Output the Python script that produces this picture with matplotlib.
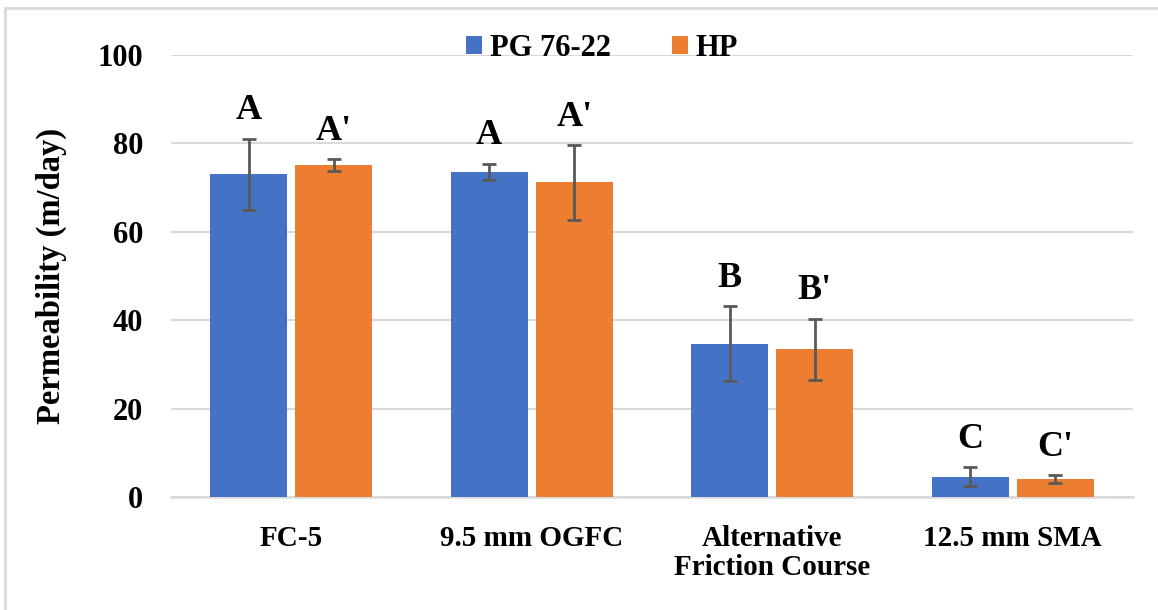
import matplotlib
matplotlib.use("Agg")
import matplotlib.pyplot as plt
from matplotlib.patches import Rectangle
import numpy as np

# Mixture types and their permeability results (m/day)
categories = ["FC-5", "9.5 mm OGFC", "Alternative\nFriction Course", "12.5 mm SMA"]
series_names = ["PG 76-22", "HP"]
pg_mean = [73.0, 73.6, 34.7, 4.7]
pg_err = [8.1, 1.8, 8.5, 2.1]
hp_mean = [75.1, 71.2, 33.5, 4.1]
hp_err = [1.3, 8.4, 6.9, 0.9]
pg_letters = ["A", "A", "B", "C"]
hp_letters = ["A'", "A'", "B'", "C'"]
y_ticks = [0, 20, 40, 60, 80, 100]

BLUE = "#4472C4"
ORANGE = "#ED7D31"
GRID = "#D9D9D9"
ERR = "#595959"

plt.rcParams["font.family"] = ["Liberation Serif", "DejaVu Serif"]
plt.rcParams["font.weight"] = "bold"

W, H = 1158, 610
fig = plt.figure(figsize=(W / 100, H / 100), dpi=100)
ax = fig.add_axes([171 / W, 1 - 497.4 / H, (1133 - 171) / W, (497.4 - 55) / H])

x = np.arange(len(categories))
bw = 0.32
off = 0.177

err_kw = dict(ecolor=ERR, elinewidth=2.0, capsize=5.2, capthick=2.0)
ax.bar(x - off, pg_mean, bw, color=BLUE, label=series_names[0], zorder=3,
       yerr=pg_err, error_kw=err_kw)
ax.bar(x + off, hp_mean, bw, color=ORANGE, label=series_names[1], zorder=3,
       yerr=hp_err, error_kw=err_kw)

# significance letters above the error bars
for xs, means, errs, letters in [(x - off, pg_mean, pg_err, pg_letters),
                                 (x + off, hp_mean, hp_err, hp_letters)]:
    for xi, m, e, lab in zip(xs, means, errs, letters):
        ax.annotate(lab, (xi, m + e), xytext=(0, 14), textcoords="offset points",
                    ha="center", va="baseline", fontsize=26, fontweight="bold",
                    color="black", zorder=5)

ax.set_xlim(-0.5, len(categories) - 0.5)
ax.set_ylim(0, 100)
ax.set_yticks(y_ticks)
ax.set_xticks(x)
ax.set_xticklabels(categories, fontsize=21, fontweight="bold", linespacing=1.1)
ax.tick_params(axis="y", labelsize=22, length=0, pad=20)
ax.tick_params(axis="x", length=0, pad=20)
for lab in ax.get_yticklabels():
    lab.set_fontweight("bold")

ax.grid(axis="y", color=GRID, linewidth=1.5, zorder=0)
ax.set_axisbelow(True)
for s in ["top", "right", "left"]:
    ax.spines[s].set_visible(False)
ax.spines["bottom"].set_color(GRID)
ax.spines["bottom"].set_linewidth(1.8)

ax.set_ylabel("Permeability (m/day)", fontsize=23.5, fontweight="bold", labelpad=22)

fig.legend(loc="center", bbox_to_anchor=(602 / W, 1 - 48 / H), ncol=2,
           frameon=False, handlelength=0.52, handleheight=0.52,
           handletextpad=0.26, columnspacing=2.0, prop={"weight": "bold", "size": 22})

# light chart-area frame
fig.patches.append(Rectangle((5 / W, -0.2), 1.2, 1.2 - 8 / H,
                             transform=fig.transFigure, fill=False,
                             edgecolor=GRID, linewidth=2.0))

fig.savefig("out.png", dpi=100, facecolor="white")
